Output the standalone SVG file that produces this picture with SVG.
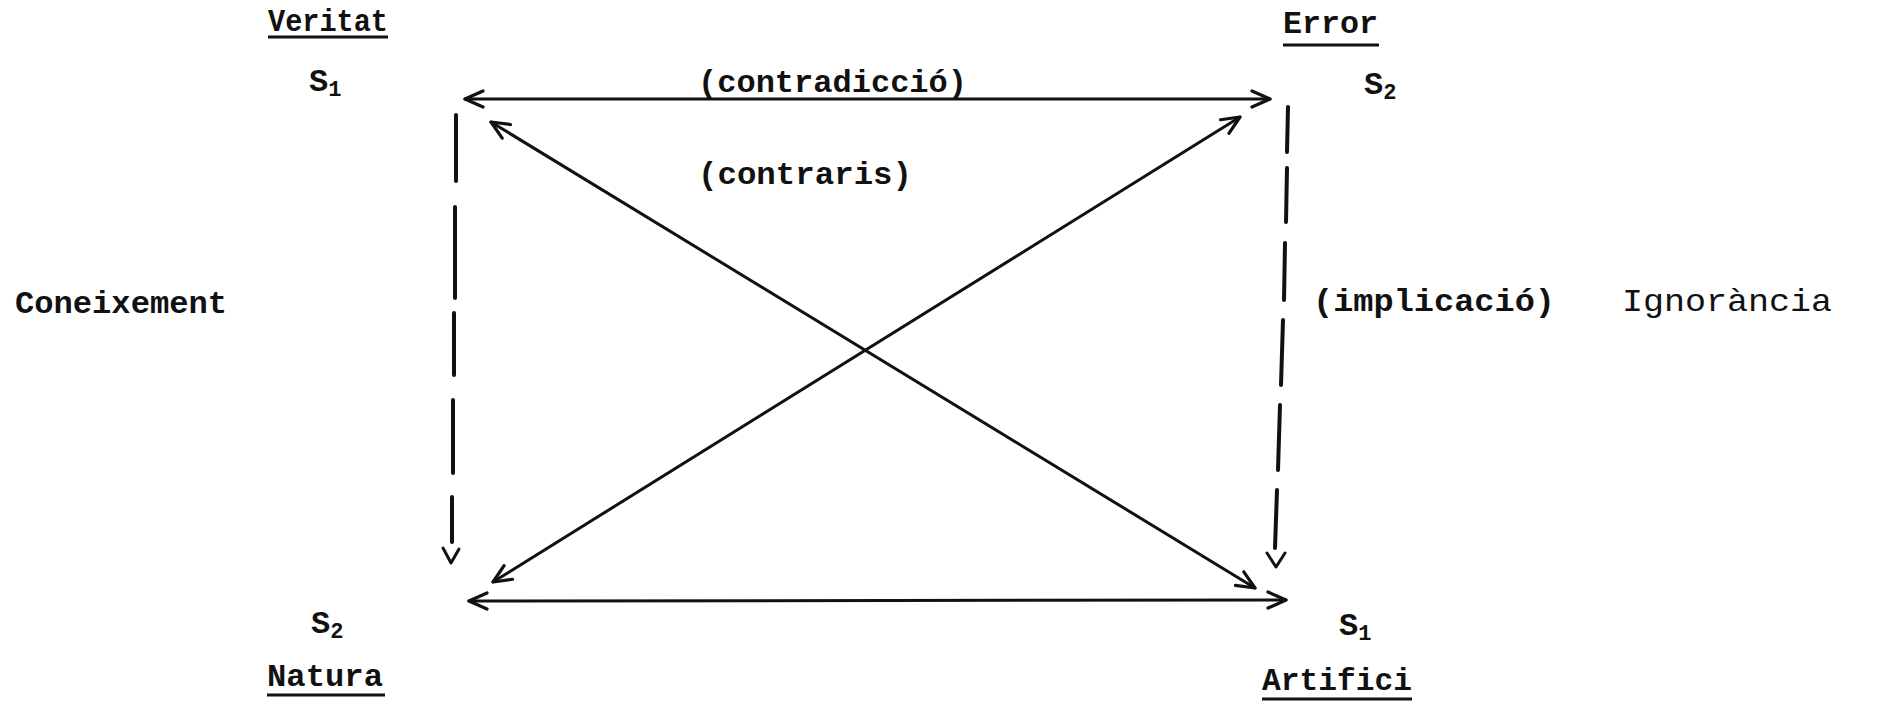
<svg xmlns="http://www.w3.org/2000/svg" width="1890" height="704" viewBox="0 0 1890 704">
<style>
.t{font-family:"Liberation Mono","DejaVu Sans Mono",monospace;font-weight:bold;font-size:32px;fill:#111}
.n{font-weight:normal}
.s{font-size:22px}
.ln{stroke:#111;stroke-width:3;fill:none;stroke-linecap:round;stroke-linejoin:round}
.dl{stroke:#111;stroke-width:4;fill:none;stroke-linecap:round}
.ul{stroke:#111;stroke-width:3}
</style>
<defs>
<marker id="hd" viewBox="0 0 22 22" refX="20" refY="11" markerWidth="22" markerHeight="22" markerUnits="userSpaceOnUse" orient="auto-start-reverse">
<path d="M2,3 L20,11 L2,19" fill="none" stroke="#111" stroke-width="3.2" stroke-linecap="round" stroke-linejoin="round"/>
</marker>
</defs>
<rect width="1890" height="704" fill="#fff"/>
<g id="n-veritat">
<text class="t" x="268" y="31" textLength="120" lengthAdjust="spacingAndGlyphs">Veritat</text>
<line class="ul" x1="268" y1="37" x2="388" y2="37"/>
<text class="t" x="309" y="91">S<tspan class="s" dy="5">1</tspan></text>
</g>
<g id="n-error">
<text class="t" x="1283" y="33" textLength="95" lengthAdjust="spacingAndGlyphs">Error</text>
<line class="ul" x1="1283" y1="45" x2="1379" y2="45"/>
<text class="t" x="1364" y="94">S<tspan class="s" dy="5">2</tspan></text>
</g>
<g id="n-natura">
<text class="t" x="267" y="686" textLength="116" lengthAdjust="spacingAndGlyphs">Natura</text>
<line class="ul" x1="267" y1="695" x2="385" y2="695"/>
<text class="t" x="311" y="633">S<tspan class="s" dy="5">2</tspan></text>
</g>
<g id="n-artifici">
<text class="t" x="1262" y="690" textLength="150" lengthAdjust="spacingAndGlyphs">Artifici</text>
<line class="ul" x1="1262" y1="699" x2="1412" y2="699"/>
<text class="t" x="1339" y="635">S<tspan class="s" dy="5">1</tspan></text>
</g>
<g id="n-coneixement">
<text class="t" x="15" y="313" textLength="212" lengthAdjust="spacingAndGlyphs">Coneixement</text>
</g>
<g id="n-ignorancia">
<text class="t n" x="1622" y="311" textLength="210" lengthAdjust="spacingAndGlyphs">Ignorància</text>
</g>
<g id="labels">
<text class="t" x="698" y="92" textLength="269" lengthAdjust="spacingAndGlyphs">(contradicció)</text>
<text class="t" x="698" y="184" textLength="214" lengthAdjust="spacingAndGlyphs">(contraris)</text>
<text class="t" x="1313" y="311" textLength="242" lengthAdjust="spacingAndGlyphs">(implicació)</text>
</g>
<g id="connectors">
<path class="ln" d="M465,99 L1270,99" marker-start="url(#hd)" marker-end="url(#hd)"/>
<path class="ln" d="M469,601 L1286,600" marker-start="url(#hd)" marker-end="url(#hd)"/>
<path class="ln" d="M491,122 L1255,588" marker-start="url(#hd)" marker-end="url(#hd)"/>
<path class="ln" d="M493,582 L1240,117" marker-start="url(#hd)" marker-end="url(#hd)"/>
<path class="dl" d="M456,115 L456,181 M455,207 L455,298 M454,313 L454,375 M453,400 L453,473 M452,497 L452,542"/>
<path class="ln" d="M443,548 L451,563 L459,549"/>
<path class="dl" d="M1288,107 L1287,152 M1287,168 L1286,222 M1285,243 L1284,300 M1283,320 L1281,385 M1280,405 L1278,470 M1277,490 L1275,548"/>
<path class="ln" d="M1267,553 L1276,567 L1285,553"/>
</g>
</svg>
